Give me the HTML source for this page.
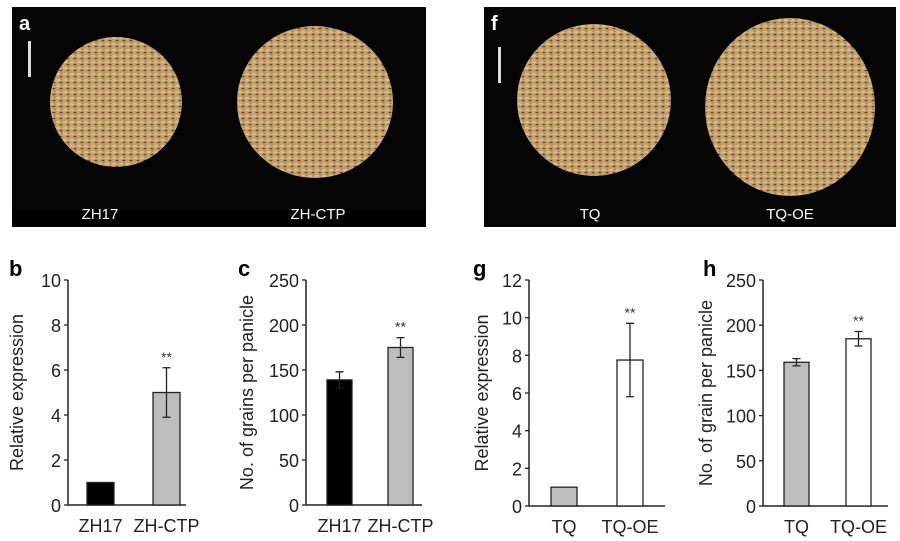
<!DOCTYPE html>
<html><head><meta charset="utf-8"><style>
html,body{margin:0;padding:0;background:#fff;}
svg{display:block;font-family:"Liberation Sans",Arial,sans-serif;}
</style></head><body>
<svg id="fig" width="900" height="541" viewBox="0 0 900 541">
<defs>
<pattern id="grain" width="7" height="6" patternUnits="userSpaceOnUse">
<rect width="7" height="6" fill="#c5a06c"/>
<ellipse cx="2" cy="2" rx="2.2" ry="1" fill="#dcbd8c"/>
<ellipse cx="5" cy="4.5" rx="1.6" ry="0.8" fill="#5e4a2e"/>
<ellipse cx="5.5" cy="1" rx="1" ry="0.7" fill="#a7844f"/>
</pattern>
</defs>
<g>
<rect x="12" y="7" width="414" height="220" fill="#050505"/>
<rect x="12" y="211" width="414" height="16" fill="#000"/>
<ellipse cx="116" cy="102" rx="66" ry="65" fill="url(#grain)"/>
<ellipse cx="315" cy="102" rx="78" ry="76" fill="url(#grain)"/>
<rect x="28" y="41" width="3" height="36" fill="#ddd"/>
<text x="19" y="30" fill="#fff" font-size="20" font-weight="bold">a</text>
<text x="100" y="219" fill="#fff" font-size="15" text-anchor="middle">ZH17</text>
<text x="318" y="219" fill="#fff" font-size="15" text-anchor="middle">ZH-CTP</text>
</g>
<g>
<rect x="484" y="7" width="412" height="220" fill="#050505"/>
<ellipse cx="594" cy="100" rx="77" ry="76" fill="url(#grain)"/>
<ellipse cx="790" cy="107" rx="85" ry="89" fill="url(#grain)"/>
<rect x="498" y="47" width="3" height="36" fill="#ddd"/>
<text x="491" y="30" fill="#fff" font-size="20" font-weight="bold">f</text>
<text x="590" y="219" fill="#fff" font-size="15" text-anchor="middle">TQ</text>
<text x="790" y="219" fill="#fff" font-size="15" text-anchor="middle">TQ-OE</text>
</g>
<text x="9" y="276" font-size="22" font-weight="bold">b</text>
<text x="238" y="276" font-size="22" font-weight="bold">c</text>
<text x="473" y="276" font-size="22" font-weight="bold">g</text>
<text x="703" y="276" font-size="22" font-weight="bold">h</text>
<g id="charts"></g>
</svg>
<script>
// chart b
const bCats = ["ZH17", "ZH-CTP"];
const bVals = [1, 5.0];
const bErr = [0, 1.1];
const bTicks = [0, 2, 4, 6, 8, 10];
// chart c
const cCats = ["ZH17", "ZH-CTP"];
const cVals = [139, 175];
const cErr = [9, 11];
const cTicks = [0, 50, 100, 150, 200, 250];
// chart g
const gCats = ["TQ", "TQ-OE"];
const gVals = [1, 7.75];
const gErr = [0, 1.95];
const gTicks = [0, 2, 4, 6, 8, 10, 12];
// chart h
const hCats = ["TQ", "TQ-OE"];
const hVals = [159, 185];
const hErr = [4, 8];
const hTicks = [0, 50, 100, 150, 200, 250];

const NS = "http://www.w3.org/2000/svg";
const root = document.getElementById("charts");
function mk(tag, attrs, parent) {
  const e = document.createElementNS(NS, tag);
  for (const k in attrs) e.setAttribute(k, attrs[k]);
  (parent || root).appendChild(e);
  return e;
}
function chart(cfg) {
  const g = mk("g", {});
  
  
  const max = cfg.ticks[cfg.ticks.length - 1];
  const y = v => cfg.base - (v / max) * (cfg.base - cfg.top);
  const ax = mk("path", {d: `M${cfg.ax} ${cfg.top}V${cfg.base}H${cfg.xend}`, stroke: "#222", "stroke-width": 1.5, fill: "none"}, g);
  
  
  cfg.ticks.forEach(t => {
    mk("line", {x1: cfg.ax - 4, x2: cfg.ax, y1: y(t), y2: y(t), stroke: "#222", "stroke-width": 1.3}, g);
    const tx = mk("text", {x: cfg.ax - 7, y: y(t) + 7, "font-size": 18, "text-anchor": "end", fill: "#222"}, g);
    tx.textContent = t;
    
    
  });
  cfg.cats.forEach((c, i) => {
    const x0 = cfg.bx[i], w = cfg.bw;
    const r = mk("rect", {x: x0, y: y(cfg.vals[i]), width: w, height: cfg.base - y(cfg.vals[i]), fill: cfg.fills[i], stroke: "#222", "stroke-width": 1.3}, g);
    
    
    const cx = x0 + w / 2;
    if (cfg.err[i] > 0) {
      const hi = y(cfg.vals[i] + cfg.err[i]), lo = y(cfg.vals[i] - cfg.err[i]);
      const eb = mk("path", {d: `M${cx} ${hi}V${lo}M${cx - 4} ${hi}H${cx + 4}M${cx - 4} ${lo}H${cx + 4}`, stroke: "#222", "stroke-width": 1.3, fill: "none"}, g);
      
      
    }
    if (i === 1) {
      const s = mk("text", {x: cx, y: y(cfg.vals[i] + cfg.err[i]) - 6, "font-size": 14, "text-anchor": "middle", fill: "#333"}, g);
      s.textContent = "**";
      
      
    }
    const l = mk("text", {x: cx, y: cfg.base + 27, "font-size": 18, "text-anchor": "middle", fill: "#222"}, g);
    l.textContent = c;
    
    
  });
  const mid = (cfg.top + cfg.base) / 2;
  const tt = mk("text", {x: cfg.tx, y: mid, "font-size": 18, "text-anchor": "middle", fill: "#222", transform: `rotate(-90 ${cfg.tx} ${mid})`}, g);
  tt.textContent = cfg.title;
  
  
}
chart({name: "chart-b", cats: bCats, vals: bVals, err: bErr, ticks: bTicks, ax: 68, top: 280, base: 505, xend: 186, bx: [87, 153], bw: 27, fills: ["#000", "#bdbdbd"], tx: 23, title: "Relative expression"});
chart({name: "chart-c", cats: cCats, vals: cVals, err: cErr, ticks: cTicks, ax: 306, top: 280, base: 505, xend: 422, bx: [327, 388], bw: 25, fills: ["#000", "#bdbdbd"], tx: 253, title: "No. of grains per panicle"});
chart({name: "chart-g", cats: gCats, vals: gVals, err: gErr, ticks: gTicks, ax: 529, top: 280, base: 506, xend: 665, bx: [551, 617], bw: 26, fills: ["#bdbdbd", "#fff"], tx: 488, title: "Relative expression"});
chart({name: "chart-h", cats: hCats, vals: hVals, err: hErr, ticks: hTicks, ax: 763, top: 280, base: 506, xend: 888, bx: [784, 846], bw: 25, fills: ["#bdbdbd", "#fff"], tx: 712, title: "No. of grain per panicle"});
</script>
</body></html>
